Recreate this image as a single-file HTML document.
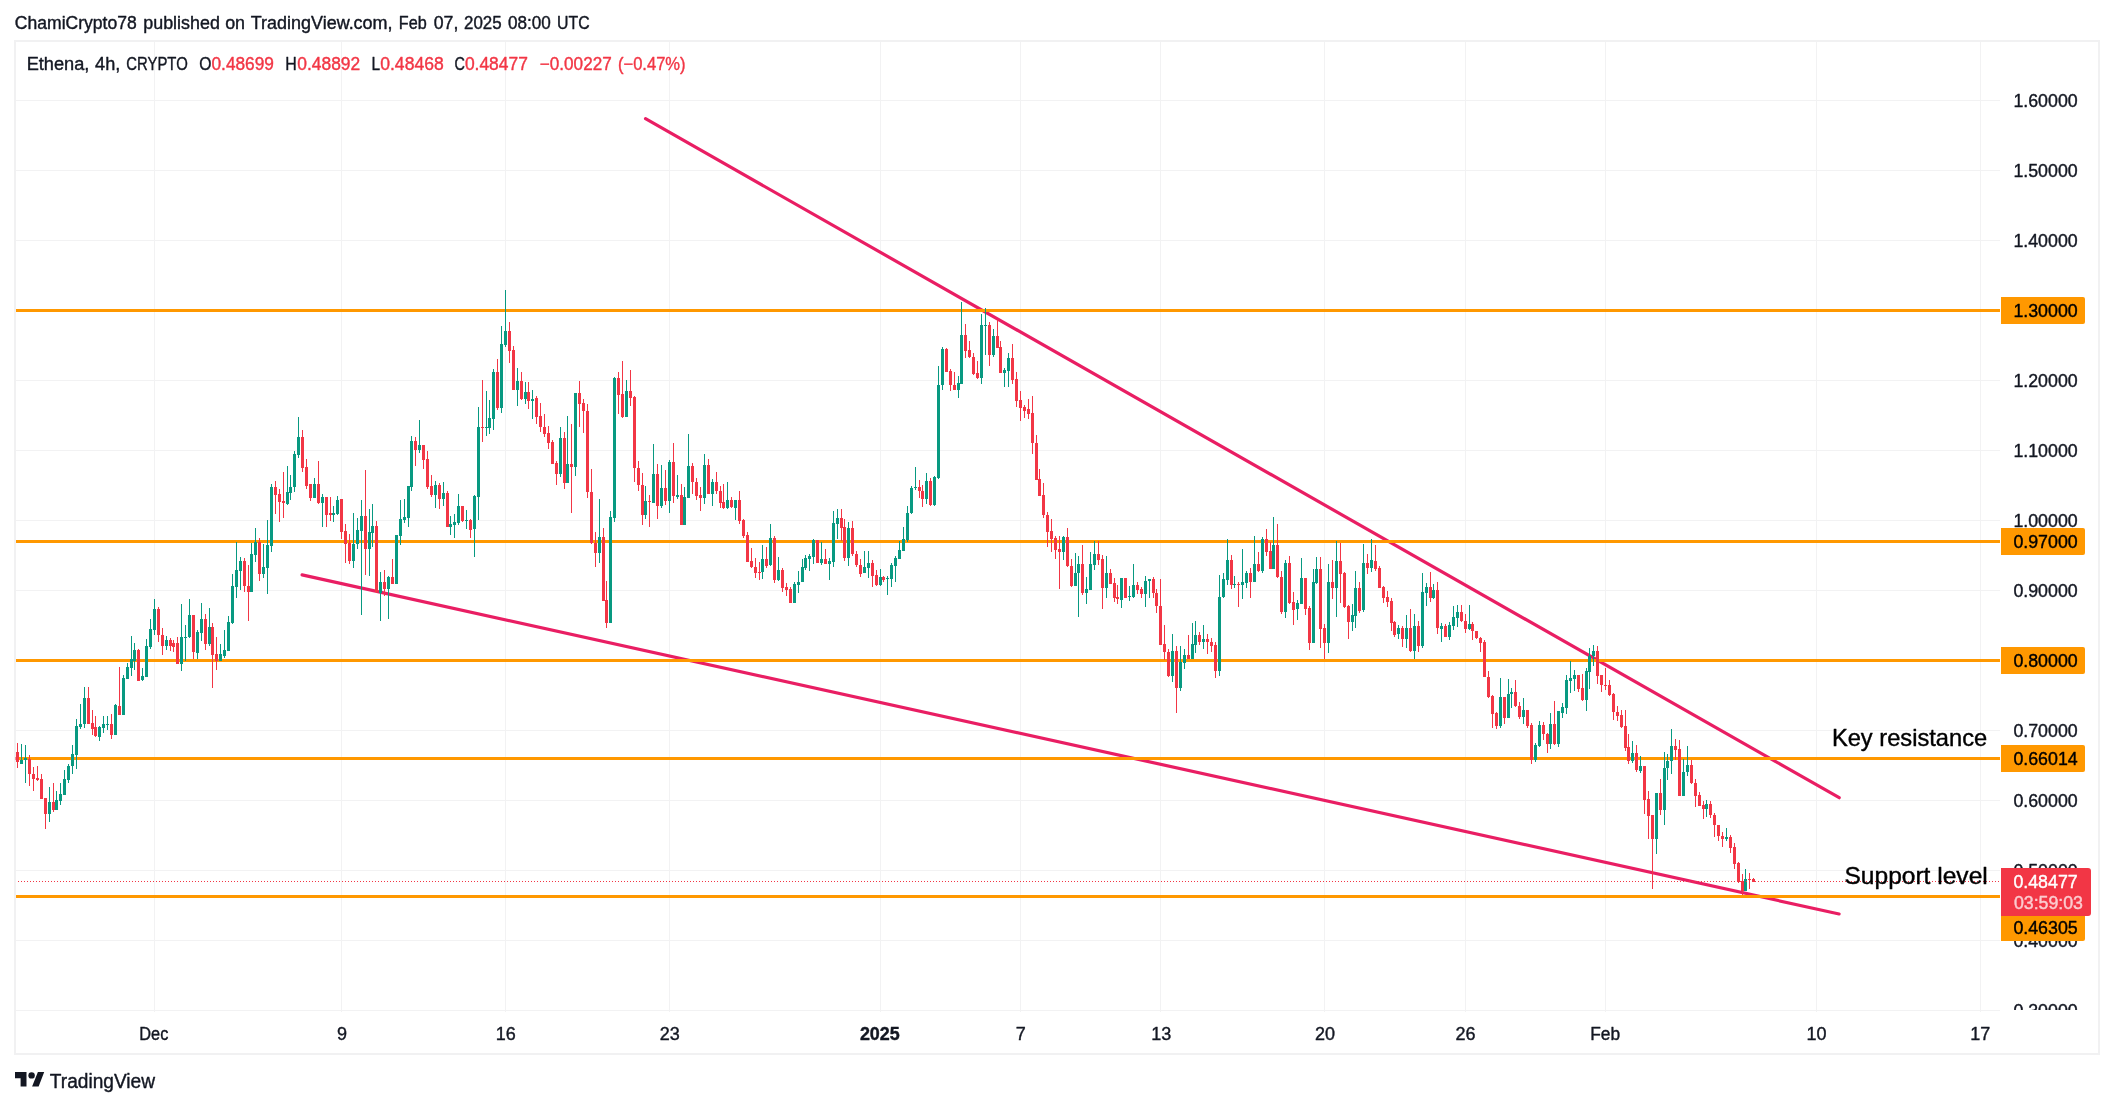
<!DOCTYPE html>
<html lang="en"><head><meta charset="utf-8"><title>Ethena 4h chart</title>
<style>
html,body{margin:0;padding:0;background:#fff}
body{width:2114px;height:1107px;overflow:hidden;position:relative}
svg{will-change:transform;position:absolute;left:0;top:0;display:block}
text{font-family:"Liberation Sans",sans-serif;white-space:pre;stroke-width:0.4px;stroke-linejoin:round}
</style></head><body>
<svg width="2114" height="1107" viewBox="0 0 2114 1107">
<defs><clipPath id="pane"><rect x="16" y="42" width="2082" height="968"/></clipPath></defs>
<g shape-rendering="crispEdges">
<path fill="#f2f2f3" d="M16 100h1984v1h-1984zM16 170h1984v1h-1984zM16 240h1984v1h-1984zM16 310h1984v1h-1984zM16 380h1984v1h-1984zM16 450h1984v1h-1984zM16 520h1984v1h-1984zM16 590h1984v1h-1984zM16 660h1984v1h-1984zM16 730h1984v1h-1984zM16 800h1984v1h-1984zM16 870h1984v1h-1984zM16 940h1984v1h-1984zM16 1010h1984v1h-1984zM154 42h1v970h-1zM341 42h1v970h-1zM505 42h1v970h-1zM669 42h1v970h-1zM880 42h1v970h-1zM1020 42h1v970h-1zM1160 42h1v970h-1zM1324 42h1v970h-1zM1465 42h1v970h-1zM1605 42h1v970h-1zM1816 42h1v970h-1zM1980 42h1v970h-1z"/>
<path fill="#f1f1f2" fill-rule="evenodd" d="M14 40H2100V1055H14zM16 42V1053H2098V42z"/>
</g>
<path d="M645.5 118.7L1839.2 797.7M302.1 574.9L1839.1 914" stroke="#e91e63" stroke-width="3.2" stroke-linecap="round" fill="none"/>
<g shape-rendering="crispEdges">
<rect x="16" y="309" width="1984" height="3" fill="#ff9800"/>
<rect x="16" y="540" width="1984" height="3" fill="#ff9800"/>
<rect x="16" y="659" width="1984" height="3" fill="#ff9800"/>
<rect x="16" y="757" width="1984" height="3" fill="#ff9800"/>
<rect x="16" y="895" width="1984" height="3" fill="#ff9800"/>
<path fill="#089981" d="M21 744h1v20h-1zM20 760h3v4h-3zM25 745h1v38h-1zM24 758h3v2h-3zM49 787h1v35h-1zM48 802h3v12h-3zM56 791h1v19h-1zM55 800h3v10h-3zM60 783h1v22h-1zM59 794h3v7h-3zM64 770h1v25h-1zM63 779h3v16h-3zM68 764h1v19h-1zM67 766h3v14h-3zM72 745h1v29h-1zM71 754h3v12h-3zM76 719h1v50h-1zM75 726h3v29h-3zM80 704h1v25h-1zM79 724h3v3h-3zM84 687h1v41h-1zM83 698h3v26h-3zM99 726h1v15h-1zM98 727h3v10h-3zM103 716h1v17h-1zM102 724h3v4h-3zM107 716h1v14h-1zM106 724h3v1h-3zM115 704h1v31h-1zM114 705h3v30h-3zM123 675h1v40h-1zM122 678h3v37h-3zM127 663h1v16h-1zM126 667h3v12h-3zM131 636h1v40h-1zM130 659h3v9h-3zM134 643h1v27h-1zM133 650h3v11h-3zM142 668h1v13h-1zM141 676h3v4h-3zM146 639h1v38h-1zM145 646h3v31h-3zM150 619h1v30h-1zM149 629h3v18h-3zM154 599h1v36h-1zM153 609h3v21h-3zM166 636h1v14h-1zM165 640h3v6h-3zM181 604h1v67h-1zM180 637h3v27h-3zM185 625h1v36h-1zM184 637h3v1h-3zM189 599h1v39h-1zM188 615h3v22h-3zM197 630h1v29h-1zM196 632h3v21h-3zM201 603h1v38h-1zM200 619h3v14h-3zM209 608h1v38h-1zM208 627h3v17h-3zM220 644h1v17h-1zM219 654h3v7h-3zM224 630h1v28h-1zM223 650h3v6h-3zM228 616h1v35h-1zM227 622h3v29h-3zM232 574h1v50h-1zM231 586h3v37h-3zM236 542h1v56h-1zM235 570h3v17h-3zM240 557h1v33h-1zM239 561h3v10h-3zM251 543h1v49h-1zM250 554h3v38h-3zM255 528h1v34h-1zM254 542h3v13h-3zM263 544h1v34h-1zM262 567h3v7h-3zM267 520h1v74h-1zM266 545h3v23h-3zM271 484h1v68h-1zM270 487h3v59h-3zM287 466h1v39h-1zM286 492h3v12h-3zM290 475h1v25h-1zM289 487h3v6h-3zM294 451h1v41h-1zM293 454h3v33h-3zM298 417h1v41h-1zM297 437h3v18h-3zM314 478h1v20h-1zM313 484h3v14h-3zM322 494h1v33h-1zM321 497h3v6h-3zM333 506h1v16h-1zM332 513h3v2h-3zM337 496h1v19h-1zM336 500h3v14h-3zM353 513h1v55h-1zM352 544h3v17h-3zM357 518h1v31h-1zM356 530h3v14h-3zM361 500h1v115h-1zM360 516h3v15h-3zM369 509h1v67h-1zM368 532h3v17h-3zM372 504h1v43h-1zM371 526h3v7h-3zM380 572h1v49h-1zM379 582h3v11h-3zM388 576h1v43h-1zM387 577h3v12h-3zM396 535h1v49h-1zM395 535h3v49h-3zM400 500h1v45h-1zM399 519h3v17h-3zM404 499h1v24h-1zM403 517h3v3h-3zM408 486h1v41h-1zM407 486h3v32h-3zM411 436h1v55h-1zM410 441h3v46h-3zM419 420h1v33h-1zM418 445h3v5h-3zM435 481h1v27h-1zM434 485h3v10h-3zM443 482h1v24h-1zM442 493h3v6h-3zM450 516h1v19h-1zM449 524h3v3h-3zM454 514h1v24h-1zM453 522h3v3h-3zM458 494h1v31h-1zM457 506h3v17h-3zM466 510h1v19h-1zM465 520h3v1h-3zM474 495h1v62h-1zM473 496h3v33h-3zM478 407h1v113h-1zM477 427h3v70h-3zM486 391h1v45h-1zM485 427h3v1h-3zM489 400h1v34h-1zM488 418h3v10h-3zM493 369h1v61h-1zM492 372h3v47h-3zM501 326h1v87h-1zM500 344h3v64h-3zM505 290h1v57h-1zM504 331h3v14h-3zM517 368h1v38h-1zM516 381h3v9h-3zM525 382h1v22h-1zM524 392h3v7h-3zM532 390h1v29h-1zM531 399h3v2h-3zM560 427h1v50h-1zM559 438h3v36h-3zM567 416h1v67h-1zM566 464h3v19h-3zM575 393h1v83h-1zM574 393h3v74h-3zM599 499h1v64h-1zM598 537h3v16h-3zM610 511h1v112h-1zM609 517h3v106h-3zM614 377h1v145h-1zM613 378h3v140h-3zM626 380h1v37h-1zM625 391h3v26h-3zM645 486h1v33h-1zM644 501h3v14h-3zM653 444h1v59h-1zM652 474h3v29h-3zM661 465h1v43h-1zM660 488h3v18h-3zM669 460h1v53h-1zM668 462h3v39h-3zM677 475h1v24h-1zM676 495h3v2h-3zM684 487h1v38h-1zM683 497h3v28h-3zM688 434h1v64h-1zM687 466h3v32h-3zM704 454h1v50h-1zM703 465h3v33h-3zM712 479h1v27h-1zM711 482h3v12h-3zM727 482h1v27h-1zM726 500h3v8h-3zM735 500h1v20h-1zM734 500h3v8h-3zM762 545h1v34h-1zM761 559h3v13h-3zM770 524h1v42h-1zM769 538h3v27h-3zM778 557h1v24h-1zM777 570h3v10h-3zM794 582h1v21h-1zM793 584h3v19h-3zM798 571h1v22h-1zM797 582h3v3h-3zM802 559h1v23h-1zM801 567h3v15h-3zM805 555h1v15h-1zM804 558h3v10h-3zM809 554h1v17h-1zM808 556h3v3h-3zM813 539h1v25h-1zM812 540h3v17h-3zM821 542h1v23h-1zM820 559h3v4h-3zM829 558h1v22h-1zM828 561h3v3h-3zM833 511h1v56h-1zM832 523h3v39h-3zM837 509h1v30h-1zM836 518h3v6h-3zM848 522h1v44h-1zM847 528h3v30h-3zM864 551h1v22h-1zM863 567h3v6h-3zM868 551h1v27h-1zM867 563h3v5h-3zM880 569h1v17h-1zM879 577h3v8h-3zM887 576h1v19h-1zM886 578h3v1h-3zM891 563h1v24h-1zM890 565h3v14h-3zM895 556h1v26h-1zM894 558h3v8h-3zM899 541h1v18h-1zM898 550h3v9h-3zM903 527h1v24h-1zM902 539h3v12h-3zM907 506h1v36h-1zM906 513h3v27h-3zM911 486h1v28h-1zM910 488h3v25h-3zM915 467h1v23h-1zM914 487h3v1h-3zM926 473h1v31h-1zM925 481h3v18h-3zM934 476h1v30h-1zM933 477h3v28h-3zM938 366h1v113h-1zM937 385h3v93h-3zM942 347h1v43h-1zM941 349h3v36h-3zM958 376h1v22h-1zM957 383h3v7h-3zM961 302h1v82h-1zM960 335h3v49h-3zM981 314h1v70h-1zM980 325h3v53h-3zM985 308h1v47h-1zM984 325h3v1h-3zM993 329h1v28h-1zM992 336h3v19h-3zM1004 368h1v19h-1zM1003 370h3v3h-3zM1008 353h1v34h-1zM1007 358h3v13h-3zM1063 536h1v24h-1zM1062 537h3v15h-3zM1075 553h1v33h-1zM1074 573h3v13h-3zM1078 556h1v61h-1zM1077 564h3v9h-3zM1086 577h1v27h-1zM1085 589h3v4h-3zM1090 552h1v38h-1zM1089 564h3v26h-3zM1094 541h1v29h-1zM1093 554h3v11h-3zM1106 556h1v42h-1zM1105 573h3v15h-3zM1121 578h1v30h-1zM1120 578h3v22h-3zM1129 586h1v15h-1zM1128 596h3v1h-3zM1133 564h1v34h-1zM1132 585h3v12h-3zM1145 576h1v31h-1zM1144 581h3v13h-3zM1149 579h1v19h-1zM1148 579h3v2h-3zM1172 634h1v48h-1zM1171 651h3v25h-3zM1180 646h1v45h-1zM1179 662h3v26h-3zM1184 649h1v20h-1zM1183 655h3v8h-3zM1192 623h1v36h-1zM1191 644h3v15h-3zM1195 621h1v32h-1zM1194 635h3v10h-3zM1203 625h1v24h-1zM1202 639h3v3h-3zM1219 575h1v101h-1zM1218 597h3v74h-3zM1223 573h1v25h-1zM1222 579h3v18h-3zM1227 539h1v46h-1zM1226 560h3v20h-3zM1234 576h1v12h-1zM1233 584h3v1h-3zM1242 549h1v50h-1zM1241 582h3v3h-3zM1246 571h1v17h-1zM1245 573h3v10h-3zM1254 536h1v46h-1zM1253 564h3v18h-3zM1262 537h1v36h-1zM1261 539h3v32h-3zM1273 517h1v52h-1zM1272 545h3v24h-3zM1285 560h1v58h-1zM1284 563h3v49h-3zM1297 600h1v20h-1zM1296 603h3v6h-3zM1301 558h1v46h-1zM1300 578h3v26h-3zM1313 569h1v74h-1zM1312 582h3v61h-3zM1316 557h1v27h-1zM1315 569h3v14h-3zM1328 564h1v89h-1zM1327 582h3v61h-3zM1336 541h1v76h-1zM1335 561h3v27h-3zM1352 604h1v27h-1zM1351 615h3v7h-3zM1355 571h1v57h-1zM1354 588h3v28h-3zM1363 544h1v68h-1zM1362 563h3v47h-3zM1371 539h1v33h-1zM1370 560h3v8h-3zM1398 625h1v14h-1zM1397 628h3v6h-3zM1406 615h1v33h-1zM1405 628h3v11h-3zM1414 614h1v45h-1zM1413 626h3v25h-3zM1422 573h1v75h-1zM1421 592h3v54h-3zM1426 583h1v23h-1zM1425 587h3v6h-3zM1433 584h1v15h-1zM1432 590h3v8h-3zM1441 623h1v19h-1zM1440 626h3v3h-3zM1449 622h1v18h-1zM1448 625h3v12h-3zM1453 606h1v24h-1zM1452 617h3v9h-3zM1457 605h1v22h-1zM1456 612h3v6h-3zM1469 605h1v25h-1zM1468 624h3v5h-3zM1500 678h1v50h-1zM1499 697h3v29h-3zM1508 679h1v39h-1zM1507 694h3v24h-3zM1511 688h1v20h-1zM1510 692h3v2h-3zM1523 698h1v26h-1zM1522 710h3v7h-3zM1535 743h1v19h-1zM1534 745h3v15h-3zM1539 721h1v26h-1zM1538 725h3v21h-3zM1550 713h1v36h-1zM1549 724h3v20h-3zM1558 711h1v36h-1zM1557 711h3v33h-3zM1562 703h1v15h-1zM1561 707h3v6h-3zM1566 675h1v39h-1zM1565 680h3v28h-3zM1570 661h1v32h-1zM1569 678h3v3h-3zM1574 670h1v21h-1zM1573 675h3v4h-3zM1586 668h1v43h-1zM1585 671h3v29h-3zM1589 648h1v41h-1zM1588 656h3v16h-3zM1593 645h1v21h-1zM1592 651h3v5h-3zM1632 741h1v22h-1zM1631 753h3v8h-3zM1640 756h1v17h-1zM1639 766h3v5h-3zM1656 793h1v61h-1zM1655 793h3v46h-3zM1664 752h1v73h-1zM1663 768h3v42h-3zM1667 754h1v26h-1zM1666 761h3v7h-3zM1671 729h1v45h-1zM1670 746h3v15h-3zM1683 759h1v37h-1zM1682 772h3v24h-3zM1687 746h1v30h-1zM1686 765h3v7h-3zM1706 800h1v17h-1zM1705 804h3v5h-3zM1726 828h1v13h-1zM1725 837h3v2h-3zM1745 869h1v22h-1zM1744 879h3v12h-3z"/>
<path fill="#f23645" d="M17 743h1v25h-1zM16 752h3v10h-3zM29 755h1v31h-1zM28 759h3v15h-3zM33 767h1v24h-1zM32 774h3v5h-3zM37 766h1v15h-1zM36 778h3v2h-3zM41 774h1v25h-1zM40 779h3v20h-3zM45 798h1v31h-1zM44 798h3v16h-3zM53 783h1v29h-1zM52 802h3v8h-3zM88 687h1v37h-1zM87 698h3v26h-3zM92 710h1v25h-1zM91 723h3v6h-3zM95 716h1v21h-1zM94 727h3v9h-3zM111 714h1v25h-1zM110 724h3v11h-3zM119 667h1v48h-1zM118 706h3v9h-3zM138 649h1v32h-1zM137 650h3v31h-3zM158 607h1v35h-1zM157 609h3v26h-3zM162 628h1v27h-1zM161 635h3v11h-3zM170 638h1v13h-1zM169 640h3v6h-3zM173 640h1v12h-1zM172 643h3v4h-3zM177 637h1v27h-1zM176 643h3v21h-3zM193 615h1v44h-1zM192 615h3v37h-3zM205 614h1v36h-1zM204 619h3v25h-3zM212 623h1v65h-1zM211 627h3v28h-3zM216 637h1v33h-1zM215 654h3v7h-3zM244 558h1v34h-1zM243 561h3v25h-3zM248 565h1v56h-1zM247 586h3v6h-3zM259 538h1v43h-1zM258 542h3v32h-3zM275 481h1v33h-1zM274 487h3v8h-3zM279 489h1v33h-1zM278 494h3v8h-3zM283 472h1v46h-1zM282 501h3v2h-3zM302 430h1v42h-1zM301 437h3v31h-3zM306 459h1v30h-1zM305 467h3v19h-3zM310 484h1v17h-1zM309 484h3v14h-3zM318 461h1v43h-1zM317 484h3v19h-3zM326 497h1v30h-1zM325 497h3v18h-3zM330 497h1v24h-1zM329 513h3v2h-3zM341 499h1v40h-1zM340 499h3v33h-3zM345 524h1v39h-1zM344 531h3v13h-3zM349 534h1v30h-1zM348 543h3v18h-3zM365 470h1v105h-1zM364 516h3v33h-3zM376 521h1v72h-1zM375 526h3v66h-3zM384 570h1v26h-1zM383 582h3v7h-3zM392 559h1v25h-1zM391 577h3v7h-3zM415 437h1v29h-1zM414 441h3v9h-3zM423 445h1v24h-1zM422 445h3v15h-3zM427 451h1v38h-1zM426 459h3v28h-3zM431 475h1v22h-1zM430 486h3v9h-3zM439 483h1v26h-1zM438 485h3v14h-3zM447 491h1v36h-1zM446 493h3v34h-3zM462 506h1v16h-1zM461 506h3v15h-3zM470 519h1v19h-1zM469 520h3v10h-3zM482 380h1v62h-1zM481 427h3v1h-3zM497 359h1v51h-1zM496 372h3v36h-3zM509 322h1v41h-1zM508 331h3v20h-3zM513 346h1v44h-1zM512 350h3v40h-3zM521 372h1v28h-1zM520 381h3v18h-3zM528 382h1v27h-1zM527 392h3v9h-3zM536 396h1v28h-1zM535 398h3v19h-3zM540 403h1v29h-1zM539 416h3v11h-3zM544 414h1v23h-1zM543 427h3v7h-3zM548 426h1v23h-1zM547 433h3v10h-3zM552 440h1v24h-1zM551 442h3v22h-3zM556 461h1v24h-1zM555 463h3v11h-3zM564 432h1v57h-1zM563 438h3v45h-3zM571 424h1v89h-1zM570 464h3v3h-3zM579 381h1v46h-1zM578 393h3v11h-3zM583 399h1v34h-1zM582 403h3v8h-3zM587 404h1v94h-1zM586 411h3v81h-3zM591 469h1v75h-1zM590 492h3v51h-3zM595 532h1v35h-1zM594 543h3v10h-3zM603 528h1v73h-1zM602 537h3v64h-3zM606 581h1v47h-1zM605 600h3v23h-3zM618 372h1v42h-1zM617 378h3v17h-3zM622 361h1v57h-1zM621 394h3v23h-3zM630 370h1v36h-1zM629 391h3v7h-3zM634 396h1v86h-1zM633 397h3v71h-3zM638 461h1v30h-1zM637 468h3v17h-3zM642 473h1v52h-1zM641 485h3v30h-3zM649 495h1v32h-1zM648 501h3v1h-3zM657 464h1v55h-1zM656 474h3v32h-3zM665 470h1v35h-1zM664 488h3v13h-3zM673 443h1v60h-1zM672 462h3v34h-3zM681 484h1v41h-1zM680 495h3v30h-3zM692 463h1v31h-1zM691 466h3v16h-3zM696 478h1v22h-1zM695 482h3v14h-3zM700 487h1v24h-1zM699 495h3v3h-3zM708 459h1v35h-1zM707 465h3v29h-3zM716 472h1v22h-1zM715 482h3v9h-3zM720 486h1v22h-1zM719 491h3v12h-3zM723 484h1v25h-1zM722 502h3v6h-3zM731 497h1v11h-1zM730 500h3v7h-3zM739 491h1v33h-1zM738 500h3v21h-3zM743 519h1v19h-1zM742 520h3v16h-3zM747 532h1v30h-1zM746 535h3v27h-3zM751 548h1v20h-1zM750 561h3v6h-3zM755 558h1v20h-1zM754 567h3v6h-3zM759 562h1v18h-1zM758 572h3v1h-3zM766 547h1v21h-1zM765 559h3v7h-3zM774 536h1v47h-1zM773 538h3v42h-3zM782 568h1v24h-1zM781 570h3v18h-3zM786 583h1v13h-1zM785 587h3v3h-3zM790 587h1v16h-1zM789 589h3v14h-3zM817 540h1v23h-1zM816 540h3v23h-3zM825 549h1v15h-1zM824 559h3v5h-3zM841 509h1v32h-1zM840 518h3v10h-3zM844 519h1v42h-1zM843 527h3v31h-3zM852 521h1v35h-1zM851 528h3v26h-3zM856 551h1v16h-1zM855 554h3v11h-3zM860 559h1v18h-1zM859 565h3v9h-3zM872 560h1v27h-1zM871 563h3v13h-3zM876 570h1v16h-1zM875 575h3v10h-3zM883 576h1v6h-1zM882 577h3v3h-3zM919 480h1v18h-1zM918 487h3v4h-3zM922 485h1v22h-1zM921 491h3v8h-3zM930 478h1v28h-1zM929 481h3v24h-3zM946 348h1v24h-1zM945 349h3v23h-3zM950 369h1v22h-1zM949 371h3v14h-3zM954 372h1v18h-1zM953 385h3v5h-3zM965 324h1v34h-1zM964 335h3v16h-3zM969 341h1v17h-1zM968 350h3v7h-3zM973 353h1v22h-1zM972 357h3v17h-3zM977 361h1v18h-1zM976 373h3v5h-3zM989 322h1v44h-1zM988 325h3v30h-3zM997 320h1v28h-1zM996 336h3v12h-3zM1000 341h1v32h-1zM999 347h3v26h-3zM1012 344h1v40h-1zM1011 358h3v22h-3zM1016 372h1v35h-1zM1015 379h3v22h-3zM1020 391h1v30h-1zM1019 400h3v8h-3zM1024 405h1v13h-1zM1023 407h3v4h-3zM1028 399h1v20h-1zM1027 409h3v5h-3zM1032 396h1v58h-1zM1031 413h3v30h-3zM1036 435h1v45h-1zM1035 443h3v37h-3zM1039 469h1v27h-1zM1038 479h3v17h-3zM1043 483h1v35h-1zM1042 495h3v20h-3zM1047 512h1v35h-1zM1046 515h3v17h-3zM1051 519h1v33h-1zM1050 531h3v8h-3zM1055 536h1v23h-1zM1054 538h3v12h-3zM1059 536h1v53h-1zM1058 549h3v3h-3zM1067 528h1v39h-1zM1066 537h3v29h-3zM1071 559h1v28h-1zM1070 566h3v20h-3zM1082 545h1v50h-1zM1081 564h3v29h-3zM1098 541h1v24h-1zM1097 554h3v6h-3zM1102 555h1v54h-1zM1101 559h3v29h-3zM1110 569h1v15h-1zM1109 573h3v11h-3zM1114 578h1v24h-1zM1113 583h3v15h-3zM1117 585h1v19h-1zM1116 597h3v2h-3zM1125 578h1v20h-1zM1124 578h3v20h-3zM1137 582h1v12h-1zM1136 585h3v5h-3zM1141 587h1v11h-1zM1140 589h3v5h-3zM1153 577h1v21h-1zM1152 579h3v14h-3zM1156 589h1v24h-1zM1155 593h3v13h-3zM1160 579h1v66h-1zM1159 606h3v39h-3zM1164 625h1v35h-1zM1163 644h3v8h-3zM1168 649h1v28h-1zM1167 652h3v24h-3zM1176 646h1v67h-1zM1175 651h3v37h-3zM1188 635h1v24h-1zM1187 655h3v4h-3zM1199 632h1v13h-1zM1198 635h3v7h-3zM1207 634h1v20h-1zM1206 639h3v3h-3zM1211 638h1v14h-1zM1210 642h3v4h-3zM1215 642h1v36h-1zM1214 645h3v26h-3zM1231 555h1v34h-1zM1230 560h3v25h-3zM1238 582h1v25h-1zM1237 584h3v1h-3zM1250 568h1v30h-1zM1249 573h3v9h-3zM1258 552h1v20h-1zM1257 564h3v7h-3zM1266 529h1v27h-1zM1265 539h3v13h-3zM1270 542h1v27h-1zM1269 551h3v18h-3zM1277 524h1v54h-1zM1276 545h3v32h-3zM1281 571h1v43h-1zM1280 577h3v35h-3zM1289 556h1v48h-1zM1288 563h3v40h-3zM1293 592h1v33h-1zM1292 602h3v8h-3zM1305 578h1v37h-1zM1304 578h3v31h-3zM1309 606h1v44h-1zM1308 608h3v35h-3zM1320 557h1v91h-1zM1319 569h3v60h-3zM1324 624h1v35h-1zM1323 628h3v15h-3zM1332 560h1v39h-1zM1331 582h3v6h-3zM1340 543h1v60h-1zM1339 561h3v13h-3zM1344 572h1v36h-1zM1343 573h3v34h-3zM1348 605h1v34h-1zM1347 606h3v16h-3zM1359 582h1v31h-1zM1358 588h3v23h-3zM1367 554h1v20h-1zM1366 563h3v5h-3zM1375 545h1v26h-1zM1374 561h3v8h-3zM1379 566h1v22h-1zM1378 568h3v20h-3zM1383 586h1v17h-1zM1382 587h3v11h-3zM1387 591h1v16h-1zM1386 597h3v5h-3zM1391 598h1v33h-1zM1390 601h3v22h-3zM1394 621h1v16h-1zM1393 622h3v13h-3zM1402 626h1v21h-1zM1401 628h3v11h-3zM1410 609h1v43h-1zM1409 628h3v23h-3zM1418 621h1v31h-1zM1417 626h3v20h-3zM1430 572h1v30h-1zM1429 587h3v11h-3zM1437 582h1v52h-1zM1436 590h3v38h-3zM1445 624h1v13h-1zM1444 626h3v11h-3zM1461 605h1v17h-1zM1460 612h3v9h-3zM1465 614h1v19h-1zM1464 621h3v8h-3zM1472 622h1v18h-1zM1471 624h3v7h-3zM1476 631h1v8h-1zM1475 631h3v7h-3zM1480 637h1v15h-1zM1479 638h3v5h-3zM1484 640h1v37h-1zM1483 642h3v35h-3zM1488 671h1v27h-1zM1487 677h3v20h-3zM1492 695h1v33h-1zM1491 696h3v18h-3zM1496 712h1v17h-1zM1495 713h3v13h-3zM1504 697h1v27h-1zM1503 697h3v21h-3zM1515 680h1v27h-1zM1514 692h3v14h-3zM1519 702h1v17h-1zM1518 706h3v11h-3zM1527 710h1v18h-1zM1526 710h3v16h-3zM1531 723h1v41h-1zM1530 725h3v35h-3zM1543 722h1v18h-1zM1542 725h3v9h-3zM1547 733h1v20h-1zM1546 734h3v10h-3zM1554 701h1v44h-1zM1553 724h3v20h-3zM1578 675h1v17h-1zM1577 675h3v14h-3zM1582 674h1v27h-1zM1581 688h3v12h-3zM1597 646h1v38h-1zM1596 651h3v25h-3zM1601 675h1v17h-1zM1600 675h3v10h-3zM1605 668h1v22h-1zM1604 685h3v1h-3zM1609 680h1v16h-1zM1608 685h3v10h-3zM1613 693h1v27h-1zM1612 694h3v18h-3zM1617 706h1v15h-1zM1616 712h3v4h-3zM1621 710h1v18h-1zM1620 715h3v12h-3zM1625 710h1v41h-1zM1624 726h3v22h-3zM1628 734h1v30h-1zM1627 747h3v14h-3zM1636 745h1v27h-1zM1635 753h3v17h-3zM1644 766h1v48h-1zM1643 766h3v34h-3zM1648 791h1v48h-1zM1647 799h3v17h-3zM1652 815h1v74h-1zM1651 815h3v24h-3zM1660 779h1v36h-1zM1659 793h3v17h-3zM1675 739h1v21h-1zM1674 746h3v4h-3zM1679 740h1v56h-1zM1678 749h3v47h-3zM1691 760h1v24h-1zM1690 765h3v18h-3zM1695 779h1v28h-1zM1694 783h3v13h-3zM1699 792h1v14h-1zM1698 795h3v11h-3zM1703 801h1v18h-1zM1702 805h3v4h-3zM1710 801h1v17h-1zM1709 804h3v11h-3zM1714 813h1v24h-1zM1713 815h3v10h-3zM1718 825h1v16h-1zM1717 825h3v11h-3zM1722 832h1v15h-1zM1721 836h3v3h-3zM1730 835h1v18h-1zM1729 837h3v11h-3zM1734 843h1v26h-1zM1733 847h3v17h-3zM1738 862h1v21h-1zM1737 863h3v19h-3zM1742 874h1v21h-1zM1741 881h3v10h-3zM1749 873h1v16h-1zM1748 879h3v1h-3zM1753 878h1v4h-1zM1752 879h3v3h-3z"/>
<path fill="#f23645" d="M18 881h1v1h-1zM21 881h1v1h-1zM24 881h1v1h-1zM27 881h1v1h-1zM30 881h1v1h-1zM33 881h1v1h-1zM36 881h1v1h-1zM39 881h1v1h-1zM42 881h1v1h-1zM45 881h1v1h-1zM48 881h1v1h-1zM51 881h1v1h-1zM54 881h1v1h-1zM57 881h1v1h-1zM60 881h1v1h-1zM63 881h1v1h-1zM66 881h1v1h-1zM69 881h1v1h-1zM72 881h1v1h-1zM75 881h1v1h-1zM78 881h1v1h-1zM81 881h1v1h-1zM84 881h1v1h-1zM87 881h1v1h-1zM90 881h1v1h-1zM93 881h1v1h-1zM96 881h1v1h-1zM99 881h1v1h-1zM102 881h1v1h-1zM105 881h1v1h-1zM108 881h1v1h-1zM111 881h1v1h-1zM114 881h1v1h-1zM117 881h1v1h-1zM120 881h1v1h-1zM123 881h1v1h-1zM126 881h1v1h-1zM129 881h1v1h-1zM132 881h1v1h-1zM135 881h1v1h-1zM138 881h1v1h-1zM141 881h1v1h-1zM144 881h1v1h-1zM147 881h1v1h-1zM150 881h1v1h-1zM153 881h1v1h-1zM156 881h1v1h-1zM159 881h1v1h-1zM162 881h1v1h-1zM165 881h1v1h-1zM168 881h1v1h-1zM171 881h1v1h-1zM174 881h1v1h-1zM177 881h1v1h-1zM180 881h1v1h-1zM183 881h1v1h-1zM186 881h1v1h-1zM189 881h1v1h-1zM192 881h1v1h-1zM195 881h1v1h-1zM198 881h1v1h-1zM201 881h1v1h-1zM204 881h1v1h-1zM207 881h1v1h-1zM210 881h1v1h-1zM213 881h1v1h-1zM216 881h1v1h-1zM219 881h1v1h-1zM222 881h1v1h-1zM225 881h1v1h-1zM228 881h1v1h-1zM231 881h1v1h-1zM234 881h1v1h-1zM237 881h1v1h-1zM240 881h1v1h-1zM243 881h1v1h-1zM246 881h1v1h-1zM249 881h1v1h-1zM252 881h1v1h-1zM255 881h1v1h-1zM258 881h1v1h-1zM261 881h1v1h-1zM264 881h1v1h-1zM267 881h1v1h-1zM270 881h1v1h-1zM273 881h1v1h-1zM276 881h1v1h-1zM279 881h1v1h-1zM282 881h1v1h-1zM285 881h1v1h-1zM288 881h1v1h-1zM291 881h1v1h-1zM294 881h1v1h-1zM297 881h1v1h-1zM300 881h1v1h-1zM303 881h1v1h-1zM306 881h1v1h-1zM309 881h1v1h-1zM312 881h1v1h-1zM315 881h1v1h-1zM318 881h1v1h-1zM321 881h1v1h-1zM324 881h1v1h-1zM327 881h1v1h-1zM330 881h1v1h-1zM333 881h1v1h-1zM336 881h1v1h-1zM339 881h1v1h-1zM342 881h1v1h-1zM345 881h1v1h-1zM348 881h1v1h-1zM351 881h1v1h-1zM354 881h1v1h-1zM357 881h1v1h-1zM360 881h1v1h-1zM363 881h1v1h-1zM366 881h1v1h-1zM369 881h1v1h-1zM372 881h1v1h-1zM375 881h1v1h-1zM378 881h1v1h-1zM381 881h1v1h-1zM384 881h1v1h-1zM387 881h1v1h-1zM390 881h1v1h-1zM393 881h1v1h-1zM396 881h1v1h-1zM399 881h1v1h-1zM402 881h1v1h-1zM405 881h1v1h-1zM408 881h1v1h-1zM411 881h1v1h-1zM414 881h1v1h-1zM417 881h1v1h-1zM420 881h1v1h-1zM423 881h1v1h-1zM426 881h1v1h-1zM429 881h1v1h-1zM432 881h1v1h-1zM435 881h1v1h-1zM438 881h1v1h-1zM441 881h1v1h-1zM444 881h1v1h-1zM447 881h1v1h-1zM450 881h1v1h-1zM453 881h1v1h-1zM456 881h1v1h-1zM459 881h1v1h-1zM462 881h1v1h-1zM465 881h1v1h-1zM468 881h1v1h-1zM471 881h1v1h-1zM474 881h1v1h-1zM477 881h1v1h-1zM480 881h1v1h-1zM483 881h1v1h-1zM486 881h1v1h-1zM489 881h1v1h-1zM492 881h1v1h-1zM495 881h1v1h-1zM498 881h1v1h-1zM501 881h1v1h-1zM504 881h1v1h-1zM507 881h1v1h-1zM510 881h1v1h-1zM513 881h1v1h-1zM516 881h1v1h-1zM519 881h1v1h-1zM522 881h1v1h-1zM525 881h1v1h-1zM528 881h1v1h-1zM531 881h1v1h-1zM534 881h1v1h-1zM537 881h1v1h-1zM540 881h1v1h-1zM543 881h1v1h-1zM546 881h1v1h-1zM549 881h1v1h-1zM552 881h1v1h-1zM555 881h1v1h-1zM558 881h1v1h-1zM561 881h1v1h-1zM564 881h1v1h-1zM567 881h1v1h-1zM570 881h1v1h-1zM573 881h1v1h-1zM576 881h1v1h-1zM579 881h1v1h-1zM582 881h1v1h-1zM585 881h1v1h-1zM588 881h1v1h-1zM591 881h1v1h-1zM594 881h1v1h-1zM597 881h1v1h-1zM600 881h1v1h-1zM603 881h1v1h-1zM606 881h1v1h-1zM609 881h1v1h-1zM612 881h1v1h-1zM615 881h1v1h-1zM618 881h1v1h-1zM621 881h1v1h-1zM624 881h1v1h-1zM627 881h1v1h-1zM630 881h1v1h-1zM633 881h1v1h-1zM636 881h1v1h-1zM639 881h1v1h-1zM642 881h1v1h-1zM645 881h1v1h-1zM648 881h1v1h-1zM651 881h1v1h-1zM654 881h1v1h-1zM657 881h1v1h-1zM660 881h1v1h-1zM663 881h1v1h-1zM666 881h1v1h-1zM669 881h1v1h-1zM672 881h1v1h-1zM675 881h1v1h-1zM678 881h1v1h-1zM681 881h1v1h-1zM684 881h1v1h-1zM687 881h1v1h-1zM690 881h1v1h-1zM693 881h1v1h-1zM696 881h1v1h-1zM699 881h1v1h-1zM702 881h1v1h-1zM705 881h1v1h-1zM708 881h1v1h-1zM711 881h1v1h-1zM714 881h1v1h-1zM717 881h1v1h-1zM720 881h1v1h-1zM723 881h1v1h-1zM726 881h1v1h-1zM729 881h1v1h-1zM732 881h1v1h-1zM735 881h1v1h-1zM738 881h1v1h-1zM741 881h1v1h-1zM744 881h1v1h-1zM747 881h1v1h-1zM750 881h1v1h-1zM753 881h1v1h-1zM756 881h1v1h-1zM759 881h1v1h-1zM762 881h1v1h-1zM765 881h1v1h-1zM768 881h1v1h-1zM771 881h1v1h-1zM774 881h1v1h-1zM777 881h1v1h-1zM780 881h1v1h-1zM783 881h1v1h-1zM786 881h1v1h-1zM789 881h1v1h-1zM792 881h1v1h-1zM795 881h1v1h-1zM798 881h1v1h-1zM801 881h1v1h-1zM804 881h1v1h-1zM807 881h1v1h-1zM810 881h1v1h-1zM813 881h1v1h-1zM816 881h1v1h-1zM819 881h1v1h-1zM822 881h1v1h-1zM825 881h1v1h-1zM828 881h1v1h-1zM831 881h1v1h-1zM834 881h1v1h-1zM837 881h1v1h-1zM840 881h1v1h-1zM843 881h1v1h-1zM846 881h1v1h-1zM849 881h1v1h-1zM852 881h1v1h-1zM855 881h1v1h-1zM858 881h1v1h-1zM861 881h1v1h-1zM864 881h1v1h-1zM867 881h1v1h-1zM870 881h1v1h-1zM873 881h1v1h-1zM876 881h1v1h-1zM879 881h1v1h-1zM882 881h1v1h-1zM885 881h1v1h-1zM888 881h1v1h-1zM891 881h1v1h-1zM894 881h1v1h-1zM897 881h1v1h-1zM900 881h1v1h-1zM903 881h1v1h-1zM906 881h1v1h-1zM909 881h1v1h-1zM912 881h1v1h-1zM915 881h1v1h-1zM918 881h1v1h-1zM921 881h1v1h-1zM924 881h1v1h-1zM927 881h1v1h-1zM930 881h1v1h-1zM933 881h1v1h-1zM936 881h1v1h-1zM939 881h1v1h-1zM942 881h1v1h-1zM945 881h1v1h-1zM948 881h1v1h-1zM951 881h1v1h-1zM954 881h1v1h-1zM957 881h1v1h-1zM960 881h1v1h-1zM963 881h1v1h-1zM966 881h1v1h-1zM969 881h1v1h-1zM972 881h1v1h-1zM975 881h1v1h-1zM978 881h1v1h-1zM981 881h1v1h-1zM984 881h1v1h-1zM987 881h1v1h-1zM990 881h1v1h-1zM993 881h1v1h-1zM996 881h1v1h-1zM999 881h1v1h-1zM1002 881h1v1h-1zM1005 881h1v1h-1zM1008 881h1v1h-1zM1011 881h1v1h-1zM1014 881h1v1h-1zM1017 881h1v1h-1zM1020 881h1v1h-1zM1023 881h1v1h-1zM1026 881h1v1h-1zM1029 881h1v1h-1zM1032 881h1v1h-1zM1035 881h1v1h-1zM1038 881h1v1h-1zM1041 881h1v1h-1zM1044 881h1v1h-1zM1047 881h1v1h-1zM1050 881h1v1h-1zM1053 881h1v1h-1zM1056 881h1v1h-1zM1059 881h1v1h-1zM1062 881h1v1h-1zM1065 881h1v1h-1zM1068 881h1v1h-1zM1071 881h1v1h-1zM1074 881h1v1h-1zM1077 881h1v1h-1zM1080 881h1v1h-1zM1083 881h1v1h-1zM1086 881h1v1h-1zM1089 881h1v1h-1zM1092 881h1v1h-1zM1095 881h1v1h-1zM1098 881h1v1h-1zM1101 881h1v1h-1zM1104 881h1v1h-1zM1107 881h1v1h-1zM1110 881h1v1h-1zM1113 881h1v1h-1zM1116 881h1v1h-1zM1119 881h1v1h-1zM1122 881h1v1h-1zM1125 881h1v1h-1zM1128 881h1v1h-1zM1131 881h1v1h-1zM1134 881h1v1h-1zM1137 881h1v1h-1zM1140 881h1v1h-1zM1143 881h1v1h-1zM1146 881h1v1h-1zM1149 881h1v1h-1zM1152 881h1v1h-1zM1155 881h1v1h-1zM1158 881h1v1h-1zM1161 881h1v1h-1zM1164 881h1v1h-1zM1167 881h1v1h-1zM1170 881h1v1h-1zM1173 881h1v1h-1zM1176 881h1v1h-1zM1179 881h1v1h-1zM1182 881h1v1h-1zM1185 881h1v1h-1zM1188 881h1v1h-1zM1191 881h1v1h-1zM1194 881h1v1h-1zM1197 881h1v1h-1zM1200 881h1v1h-1zM1203 881h1v1h-1zM1206 881h1v1h-1zM1209 881h1v1h-1zM1212 881h1v1h-1zM1215 881h1v1h-1zM1218 881h1v1h-1zM1221 881h1v1h-1zM1224 881h1v1h-1zM1227 881h1v1h-1zM1230 881h1v1h-1zM1233 881h1v1h-1zM1236 881h1v1h-1zM1239 881h1v1h-1zM1242 881h1v1h-1zM1245 881h1v1h-1zM1248 881h1v1h-1zM1251 881h1v1h-1zM1254 881h1v1h-1zM1257 881h1v1h-1zM1260 881h1v1h-1zM1263 881h1v1h-1zM1266 881h1v1h-1zM1269 881h1v1h-1zM1272 881h1v1h-1zM1275 881h1v1h-1zM1278 881h1v1h-1zM1281 881h1v1h-1zM1284 881h1v1h-1zM1287 881h1v1h-1zM1290 881h1v1h-1zM1293 881h1v1h-1zM1296 881h1v1h-1zM1299 881h1v1h-1zM1302 881h1v1h-1zM1305 881h1v1h-1zM1308 881h1v1h-1zM1311 881h1v1h-1zM1314 881h1v1h-1zM1317 881h1v1h-1zM1320 881h1v1h-1zM1323 881h1v1h-1zM1326 881h1v1h-1zM1329 881h1v1h-1zM1332 881h1v1h-1zM1335 881h1v1h-1zM1338 881h1v1h-1zM1341 881h1v1h-1zM1344 881h1v1h-1zM1347 881h1v1h-1zM1350 881h1v1h-1zM1353 881h1v1h-1zM1356 881h1v1h-1zM1359 881h1v1h-1zM1362 881h1v1h-1zM1365 881h1v1h-1zM1368 881h1v1h-1zM1371 881h1v1h-1zM1374 881h1v1h-1zM1377 881h1v1h-1zM1380 881h1v1h-1zM1383 881h1v1h-1zM1386 881h1v1h-1zM1389 881h1v1h-1zM1392 881h1v1h-1zM1395 881h1v1h-1zM1398 881h1v1h-1zM1401 881h1v1h-1zM1404 881h1v1h-1zM1407 881h1v1h-1zM1410 881h1v1h-1zM1413 881h1v1h-1zM1416 881h1v1h-1zM1419 881h1v1h-1zM1422 881h1v1h-1zM1425 881h1v1h-1zM1428 881h1v1h-1zM1431 881h1v1h-1zM1434 881h1v1h-1zM1437 881h1v1h-1zM1440 881h1v1h-1zM1443 881h1v1h-1zM1446 881h1v1h-1zM1449 881h1v1h-1zM1452 881h1v1h-1zM1455 881h1v1h-1zM1458 881h1v1h-1zM1461 881h1v1h-1zM1464 881h1v1h-1zM1467 881h1v1h-1zM1470 881h1v1h-1zM1473 881h1v1h-1zM1476 881h1v1h-1zM1479 881h1v1h-1zM1482 881h1v1h-1zM1485 881h1v1h-1zM1488 881h1v1h-1zM1491 881h1v1h-1zM1494 881h1v1h-1zM1497 881h1v1h-1zM1500 881h1v1h-1zM1503 881h1v1h-1zM1506 881h1v1h-1zM1509 881h1v1h-1zM1512 881h1v1h-1zM1515 881h1v1h-1zM1518 881h1v1h-1zM1521 881h1v1h-1zM1524 881h1v1h-1zM1527 881h1v1h-1zM1530 881h1v1h-1zM1533 881h1v1h-1zM1536 881h1v1h-1zM1539 881h1v1h-1zM1542 881h1v1h-1zM1545 881h1v1h-1zM1548 881h1v1h-1zM1551 881h1v1h-1zM1554 881h1v1h-1zM1557 881h1v1h-1zM1560 881h1v1h-1zM1563 881h1v1h-1zM1566 881h1v1h-1zM1569 881h1v1h-1zM1572 881h1v1h-1zM1575 881h1v1h-1zM1578 881h1v1h-1zM1581 881h1v1h-1zM1584 881h1v1h-1zM1587 881h1v1h-1zM1590 881h1v1h-1zM1593 881h1v1h-1zM1596 881h1v1h-1zM1599 881h1v1h-1zM1602 881h1v1h-1zM1605 881h1v1h-1zM1608 881h1v1h-1zM1611 881h1v1h-1zM1614 881h1v1h-1zM1617 881h1v1h-1zM1620 881h1v1h-1zM1623 881h1v1h-1zM1626 881h1v1h-1zM1629 881h1v1h-1zM1632 881h1v1h-1zM1635 881h1v1h-1zM1638 881h1v1h-1zM1641 881h1v1h-1zM1644 881h1v1h-1zM1647 881h1v1h-1zM1650 881h1v1h-1zM1653 881h1v1h-1zM1656 881h1v1h-1zM1659 881h1v1h-1zM1662 881h1v1h-1zM1665 881h1v1h-1zM1668 881h1v1h-1zM1671 881h1v1h-1zM1674 881h1v1h-1zM1677 881h1v1h-1zM1680 881h1v1h-1zM1683 881h1v1h-1zM1686 881h1v1h-1zM1689 881h1v1h-1zM1692 881h1v1h-1zM1695 881h1v1h-1zM1698 881h1v1h-1zM1701 881h1v1h-1zM1704 881h1v1h-1zM1707 881h1v1h-1zM1710 881h1v1h-1zM1713 881h1v1h-1zM1716 881h1v1h-1zM1719 881h1v1h-1zM1722 881h1v1h-1zM1725 881h1v1h-1zM1728 881h1v1h-1zM1731 881h1v1h-1zM1734 881h1v1h-1zM1737 881h1v1h-1zM1740 881h1v1h-1zM1743 881h1v1h-1zM1746 881h1v1h-1zM1749 881h1v1h-1zM1752 881h1v1h-1zM1755 881h1v1h-1zM1758 881h1v1h-1zM1761 881h1v1h-1zM1764 881h1v1h-1zM1767 881h1v1h-1zM1770 881h1v1h-1zM1773 881h1v1h-1zM1776 881h1v1h-1zM1779 881h1v1h-1zM1782 881h1v1h-1zM1785 881h1v1h-1zM1788 881h1v1h-1zM1791 881h1v1h-1zM1794 881h1v1h-1zM1797 881h1v1h-1zM1800 881h1v1h-1zM1803 881h1v1h-1zM1806 881h1v1h-1zM1809 881h1v1h-1zM1812 881h1v1h-1zM1815 881h1v1h-1zM1818 881h1v1h-1zM1821 881h1v1h-1zM1824 881h1v1h-1zM1827 881h1v1h-1zM1830 881h1v1h-1zM1833 881h1v1h-1zM1836 881h1v1h-1zM1839 881h1v1h-1zM1842 881h1v1h-1zM1845 881h1v1h-1zM1848 881h1v1h-1zM1851 881h1v1h-1zM1854 881h1v1h-1zM1857 881h1v1h-1zM1860 881h1v1h-1zM1863 881h1v1h-1zM1866 881h1v1h-1zM1869 881h1v1h-1zM1872 881h1v1h-1zM1875 881h1v1h-1zM1878 881h1v1h-1zM1881 881h1v1h-1zM1884 881h1v1h-1zM1887 881h1v1h-1zM1890 881h1v1h-1zM1893 881h1v1h-1zM1896 881h1v1h-1zM1899 881h1v1h-1zM1902 881h1v1h-1zM1905 881h1v1h-1zM1908 881h1v1h-1zM1911 881h1v1h-1zM1914 881h1v1h-1zM1917 881h1v1h-1zM1920 881h1v1h-1zM1923 881h1v1h-1zM1926 881h1v1h-1zM1929 881h1v1h-1zM1932 881h1v1h-1zM1935 881h1v1h-1zM1938 881h1v1h-1zM1941 881h1v1h-1zM1944 881h1v1h-1zM1947 881h1v1h-1zM1950 881h1v1h-1zM1953 881h1v1h-1zM1956 881h1v1h-1zM1959 881h1v1h-1zM1962 881h1v1h-1zM1965 881h1v1h-1zM1968 881h1v1h-1zM1971 881h1v1h-1zM1974 881h1v1h-1zM1977 881h1v1h-1zM1980 881h1v1h-1zM1983 881h1v1h-1zM1986 881h1v1h-1zM1989 881h1v1h-1zM1992 881h1v1h-1zM1995 881h1v1h-1zM1998 881h1v1h-1z"/>
<rect x="15" y="757" width="2" height="3" fill="#f23645" fill-opacity="0.5"/>
</g>
<g>
<text x="1831.93" y="746" font-size="24" fill="#000" stroke="#000" textLength="155.2" lengthAdjust="spacingAndGlyphs">Key resistance</text>
<text x="1844.46" y="884.1" font-size="24" fill="#000" stroke="#000" textLength="143.3" lengthAdjust="spacingAndGlyphs">Support level</text>
<g clip-path="url(#pane)">
<text x="2013.4" y="107.0" font-size="18" fill="#131722" stroke="#131722" textLength="64.3" lengthAdjust="spacingAndGlyphs">1.60000</text>
<text x="2013.4" y="177.0" font-size="18" fill="#131722" stroke="#131722" textLength="64.3" lengthAdjust="spacingAndGlyphs">1.50000</text>
<text x="2013.4" y="247.0" font-size="18" fill="#131722" stroke="#131722" textLength="64.3" lengthAdjust="spacingAndGlyphs">1.40000</text>
<text x="2013.4" y="317.0" font-size="18" fill="#131722" stroke="#131722" textLength="64.3" lengthAdjust="spacingAndGlyphs">1.30000</text>
<text x="2013.4" y="387.0" font-size="18" fill="#131722" stroke="#131722" textLength="64.3" lengthAdjust="spacingAndGlyphs">1.20000</text>
<text x="2013.4" y="457.0" font-size="18" fill="#131722" stroke="#131722" textLength="64.3" lengthAdjust="spacingAndGlyphs">1.10000</text>
<text x="2013.4" y="527.0" font-size="18" fill="#131722" stroke="#131722" textLength="64.3" lengthAdjust="spacingAndGlyphs">1.00000</text>
<text x="2013.4" y="597.0" font-size="18" fill="#131722" stroke="#131722" textLength="64.3" lengthAdjust="spacingAndGlyphs">0.90000</text>
<text x="2013.4" y="667.0" font-size="18" fill="#131722" stroke="#131722" textLength="64.3" lengthAdjust="spacingAndGlyphs">0.80000</text>
<text x="2013.4" y="737.0" font-size="18" fill="#131722" stroke="#131722" textLength="64.3" lengthAdjust="spacingAndGlyphs">0.70000</text>
<text x="2013.4" y="807.0" font-size="18" fill="#131722" stroke="#131722" textLength="64.3" lengthAdjust="spacingAndGlyphs">0.60000</text>
<text x="2013.4" y="877.0" font-size="18" fill="#131722" stroke="#131722" textLength="64.3" lengthAdjust="spacingAndGlyphs">0.50000</text>
<text x="2013.4" y="947.0" font-size="18" fill="#131722" stroke="#131722" textLength="64.3" lengthAdjust="spacingAndGlyphs">0.40000</text>
<text x="2013.4" y="1017.0" font-size="18" fill="#131722" stroke="#131722" textLength="64.3" lengthAdjust="spacingAndGlyphs">0.30000</text>
</g>
<path fill="#ff9800" d="M2001 297h82a2 2 0 0 1 2 2v23a2 2 0 0 1 -2 2h-82z"/>
<text x="2013.4" y="317.2" font-size="18" fill="#000" stroke="#000" textLength="64.3" lengthAdjust="spacingAndGlyphs">1.30000</text>
<path fill="#ff9800" d="M2001 528h82a2 2 0 0 1 2 2v23a2 2 0 0 1 -2 2h-82z"/>
<text x="2013.4" y="548.2" font-size="18" fill="#000" stroke="#000" textLength="64.3" lengthAdjust="spacingAndGlyphs">0.97000</text>
<path fill="#ff9800" d="M2001 647h82a2 2 0 0 1 2 2v23a2 2 0 0 1 -2 2h-82z"/>
<text x="2013.4" y="667.2" font-size="18" fill="#000" stroke="#000" textLength="64.3" lengthAdjust="spacingAndGlyphs">0.80000</text>
<path fill="#ff9800" d="M2001 745h82a2 2 0 0 1 2 2v23a2 2 0 0 1 -2 2h-82z"/>
<text x="2013.4" y="765.2" font-size="18" fill="#000" stroke="#000" textLength="64.3" lengthAdjust="spacingAndGlyphs">0.66014</text>
<path fill="#ff9800" d="M2001 914h82a2 2 0 0 1 2 2v23a2 2 0 0 1 -2 2h-82z"/>
<text x="2013.4" y="934.2" font-size="18" fill="#000" stroke="#000" textLength="64.3" lengthAdjust="spacingAndGlyphs">0.46305</text>
<path fill="#f23645" d="M2001 868h87a3 3 0 0 1 3 3v42a3 3 0 0 1 -3 3h-87z"/>
<text x="2013.4" y="888" font-size="18" fill="#fff" stroke="#fff" textLength="64.3" lengthAdjust="spacingAndGlyphs">0.48477</text>
<text x="2013.90" y="908.8" font-size="18" fill="#fff" stroke="#fff" textLength="69.1" lengthAdjust="spacingAndGlyphs" opacity="0.75">03:59:03</text>
<text x="139.30" y="1040.2" font-size="18" fill="#131722" stroke="#131722" textLength="29.0" lengthAdjust="spacingAndGlyphs">Dec</text>
<text x="342.0" y="1040.2" font-size="18" fill="#131722" stroke="#131722" text-anchor="middle">9</text>
<text x="505.8" y="1040.2" font-size="18" fill="#131722" stroke="#131722" text-anchor="middle">16</text>
<text x="669.7" y="1040.2" font-size="18" fill="#131722" stroke="#131722" text-anchor="middle">23</text>
<text x="859.90" y="1040.2" font-size="18" fill="#131722" stroke="#131722" font-weight="bold" textLength="39.8" lengthAdjust="spacingAndGlyphs">2025</text>
<text x="1020.7" y="1040.2" font-size="18" fill="#131722" stroke="#131722" text-anchor="middle">7</text>
<text x="1161.2" y="1040.2" font-size="18" fill="#131722" stroke="#131722" text-anchor="middle">13</text>
<text x="1325.0" y="1040.2" font-size="18" fill="#131722" stroke="#131722" text-anchor="middle">20</text>
<text x="1465.4" y="1040.2" font-size="18" fill="#131722" stroke="#131722" text-anchor="middle">26</text>
<text x="1590.25" y="1040.2" font-size="18" fill="#131722" stroke="#131722" textLength="29.9" lengthAdjust="spacingAndGlyphs">Feb</text>
<text x="1816.5" y="1040.2" font-size="18" fill="#131722" stroke="#131722" text-anchor="middle">10</text>
<text x="1980.3" y="1040.2" font-size="18" fill="#131722" stroke="#131722" text-anchor="middle">17</text>
<text x="14.88" y="28.8" font-size="17.5" fill="#131722" stroke="#131722" textLength="121.9" lengthAdjust="spacingAndGlyphs">ChamiCrypto78</text>
<text x="143.27" y="28.8" font-size="17.5" fill="#131722" stroke="#131722" textLength="76.6" lengthAdjust="spacingAndGlyphs">published</text>
<text x="225.16" y="28.8" font-size="17.5" fill="#131722" stroke="#131722" textLength="19.9" lengthAdjust="spacingAndGlyphs">on</text>
<text x="250.70" y="28.8" font-size="17.5" fill="#131722" stroke="#131722" textLength="141.9" lengthAdjust="spacingAndGlyphs">TradingView.com,</text>
<text x="398.78" y="28.8" font-size="17.5" fill="#131722" stroke="#131722" textLength="27.9" lengthAdjust="spacingAndGlyphs">Feb</text>
<text x="433.79" y="28.8" font-size="17.5" fill="#131722" stroke="#131722" textLength="24.6" lengthAdjust="spacingAndGlyphs">07,</text>
<text x="464.01" y="28.8" font-size="17.5" fill="#131722" stroke="#131722" textLength="37.6" lengthAdjust="spacingAndGlyphs">2025</text>
<text x="507.91" y="28.8" font-size="17.5" fill="#131722" stroke="#131722" textLength="42.8" lengthAdjust="spacingAndGlyphs">08:00</text>
<text x="557.10" y="28.8" font-size="17.5" fill="#131722" stroke="#131722" textLength="32.6" lengthAdjust="spacingAndGlyphs">UTC</text>
<text x="26.70" y="69.6" font-size="18" fill="#131722" stroke="#131722" textLength="62.7" lengthAdjust="spacingAndGlyphs">Ethena,</text>
<text x="95.10" y="69.6" font-size="18" fill="#131722" stroke="#131722" textLength="25.2" lengthAdjust="spacingAndGlyphs">4h,</text>
<text x="126.24" y="69.6" font-size="18" fill="#131722" stroke="#131722" textLength="61.5" lengthAdjust="spacingAndGlyphs">CRYPTO</text>
<text x="199.30" y="69.6" font-size="18" fill="#131722" stroke="#131722" textLength="12.2" lengthAdjust="spacingAndGlyphs">O</text>
<text x="285.30" y="69.6" font-size="18" fill="#131722" stroke="#131722" textLength="11.5" lengthAdjust="spacingAndGlyphs">H</text>
<text x="371.50" y="69.6" font-size="18" fill="#131722" stroke="#131722" textLength="8.6" lengthAdjust="spacingAndGlyphs">L</text>
<text x="454.42" y="69.6" font-size="18" fill="#131722" stroke="#131722" textLength="10.4" lengthAdjust="spacingAndGlyphs">C</text>
<text x="211.51" y="69.6" font-size="18" fill="#f23645" stroke="#f23645" textLength="62.4" lengthAdjust="spacingAndGlyphs">0.48699</text>
<text x="297.30" y="69.6" font-size="18" fill="#f23645" stroke="#f23645" textLength="62.9" lengthAdjust="spacingAndGlyphs">0.48892</text>
<text x="380.25" y="69.6" font-size="18" fill="#f23645" stroke="#f23645" textLength="63.4" lengthAdjust="spacingAndGlyphs">0.48468</text>
<text x="464.90" y="69.6" font-size="18" fill="#f23645" stroke="#f23645" textLength="63.0" lengthAdjust="spacingAndGlyphs">0.48477</text>
<text x="539.81" y="69.6" font-size="18" fill="#f23645" stroke="#f23645" textLength="71.9" lengthAdjust="spacingAndGlyphs">−0.00227</text>
<text x="618.01" y="69.6" font-size="18" fill="#f23645" stroke="#f23645" textLength="67.6" lengthAdjust="spacingAndGlyphs">(−0.47%)</text>
<path fill="#131722" d="M15 1072h11.5v14.6h-5.9v-8.4H15zM37.9 1072h6.3l-5.55 14.6h-6.55z"/><circle cx="31.6" cy="1075.4" r="3.2" fill="#131722"/>
<text x="49.81" y="1087.6" font-size="19.5" fill="#131722" stroke="#131722" textLength="105.2" lengthAdjust="spacingAndGlyphs">TradingView</text>
</g>
</svg>
</body></html>
